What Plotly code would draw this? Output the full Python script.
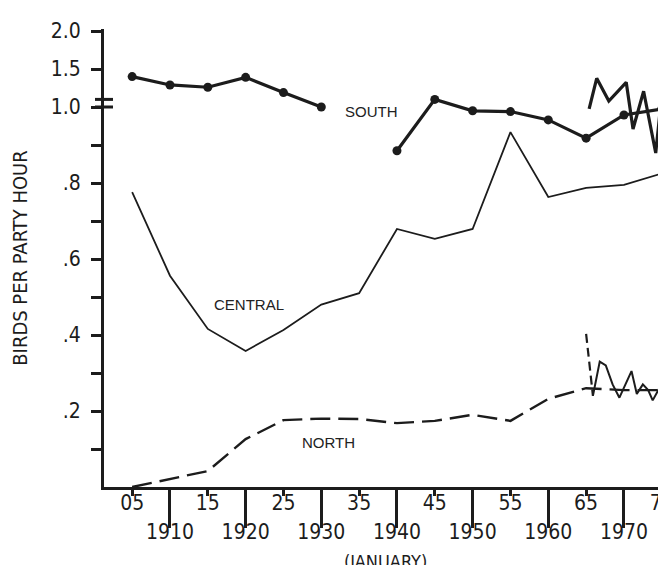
import plotly.graph_objects as go

# ---------------- data ----------------
years = [1905, 1910, 1915, 1920, 1925, 1930, 1935, 1940, 1945, 1950, 1955, 1960, 1965, 1970, 1975]
south = [1.40, 1.29, 1.26, 1.39, 1.19, 1.00, None, 0.885, 1.10, 0.99, 0.988, 0.966, 0.918, 0.979, 0.995]
central = [0.776, 0.556, 0.416, 0.358, 0.413, 0.48, 0.51, 0.679, 0.653, 0.679, 0.934, 0.763, 0.787, 0.795, 0.825]
north = [0.0, 0.022, 0.042, 0.126, 0.176, 0.18, 0.179, 0.168, 0.174, 0.19, 0.174, 0.232, 0.26, 0.255, 0.255]

# hand-drawn annual scribbles (late years)
south_scr_x = [1965.4, 1966.4, 1968.0, 1970.3, 1971.2, 1972.6, 1974.2, 1975.0]
south_scr_y = [0.995, 1.377, 1.078, 1.325, 0.942, 1.208, 0.879, 1.16]
north_drop_x = [1965.0, 1965.9]
north_drop_y = [0.403, 0.24]
north_scr_x = [1965.9, 1966.8, 1967.6, 1968.5, 1969.4, 1971.0, 1971.7, 1972.5, 1973.2, 1973.8, 1974.9]
north_scr_y = [0.24, 0.33, 0.32, 0.27, 0.235, 0.305, 0.245, 0.27, 0.255, 0.228, 0.268]

decades = [1910, 1920, 1930, 1940, 1950, 1960, 1970]
decade_labels = ["1910", "1920", "1930", "1940", "1950", "1960", "1970"]
halfdec = [1905, 1915, 1925, 1935, 1945, 1955, 1965, 1975]
halfdec_labels = ["05", "15", "25", "35", "45", "55", "65", "75"]

y_ticks = [0.1, 0.2, 0.3, 0.4, 0.5, 0.6, 0.7, 0.8, 0.9, 1.0, 1.5, 2.0]
y_tick_labels = ["", ".2", "", ".4", "", ".6", "", ".8", "", "1.0", "1.5", "2.0"]

BREAK = 1.0
UPPER_SCALE = 0.2  # compressed scale above the axis break


def t(v):
    if v is None:
        return None
    return v if v <= BREAK else BREAK + (v - BREAK) * UPPER_SCALE


INK = "#1c1c1c"
NARROW = "DejaVu Sans Condensed, Liberation Sans Narrow, Arial Narrow, sans-serif"
X_RANGE = [1901.28, 1975.69]

fig = go.Figure()

fig.add_trace(go.Scatter(x=years, y=[t(v) for v in central], mode="lines",
                         line=dict(color=INK, width=1.8), showlegend=False, cliponaxis=False))
fig.add_trace(go.Scatter(x=years, y=[t(v) for v in north], mode="lines",
                         line=dict(color=INK, width=2.4, dash="20px,8px"), showlegend=False,
                         xaxis="x2"))
fig.add_trace(go.Scatter(x=years, y=[t(v) for v in south], mode="lines+markers",
                         line=dict(color=INK, width=3.2), marker=dict(color=INK, size=9),
                         connectgaps=False, showlegend=False))
fig.add_trace(go.Scatter(x=south_scr_x, y=[t(v) for v in south_scr_y], mode="lines",
                         line=dict(color=INK, width=3.2), showlegend=False))
fig.add_trace(go.Scatter(x=north_drop_x, y=north_drop_y, mode="lines",
                         line=dict(color=INK, width=2.2, dash="9px,5px"), showlegend=False))
fig.add_trace(go.Scatter(x=north_scr_x, y=north_scr_y, mode="lines",
                         line=dict(color=INK, width=2.0), showlegend=False))

# axis break marks
for yb in [BREAK, BREAK + 0.02]:
    fig.add_shape(type="line", xref="paper", yref="y", x0=-0.016, x1=0.016, y0=yb, y1=yb,
                  line=dict(color=INK, width=3))

label_font = dict(family="Liberation Sans, Arial, sans-serif", size=15, color="#222222")
fig.add_annotation(x=1936.7, y=0.989, text="SOUTH", showarrow=False, font=label_font)
fig.add_annotation(x=1920.5, y=0.479, text="CENTRAL", showarrow=False, font=label_font)
fig.add_annotation(x=1930.9, y=0.118, text="NORTH", showarrow=False, font=label_font)
fig.add_annotation(x=1938.5, xref="x", y=-0.163, yref="paper", text="(JANUARY)", showarrow=False,
                   font=dict(family=NARROW, size=18, color=INK), yanchor="middle")

fig.update_layout(
    width=666, height=565,
    margin=dict(l=96, r=0, t=21, b=86),
    paper_bgcolor="white", plot_bgcolor="white",
    xaxis=dict(range=X_RANGE, tickmode="array", tickvals=decades, ticktext=decade_labels,
               ticks="outside", ticklen=38, tickwidth=2.5, tickcolor=INK,
               showline=True, linewidth=3, linecolor=INK, showgrid=False, zeroline=False,
               tickfont=dict(family=NARROW, size=21, color=INK), ticklabelstandoff=-14,
               ticklabeloverflow="allow"),
    xaxis2=dict(range=X_RANGE, overlaying="x", anchor="y", side="bottom", tickmode="array",
                tickvals=halfdec, ticktext=halfdec_labels, ticks="outside", ticklen=8,
                tickwidth=2.5, tickcolor=INK, showline=False, showgrid=False, zeroline=False,
                tickfont=dict(family=NARROW, size=21, color=INK), ticklabelstandoff=-11,
                ticklabeloverflow="allow"),
    yaxis=dict(range=[0, 458 / 380], tickmode="array", tickvals=[t(v) for v in y_ticks],
               ticktext=y_tick_labels, ticks="outside", ticklen=10, tickwidth=2.5, tickcolor=INK,
               showline=True, linewidth=3, linecolor=INK, showgrid=False, zeroline=False,
               tickfont=dict(family=NARROW, size=21, color=INK), ticklabelstandoff=6,
               title=dict(text="BIRDS PER PARTY HOUR", standoff=22,
                          font=dict(family=NARROW, size=20, color=INK))),
)

fig.write_html("out.html")
